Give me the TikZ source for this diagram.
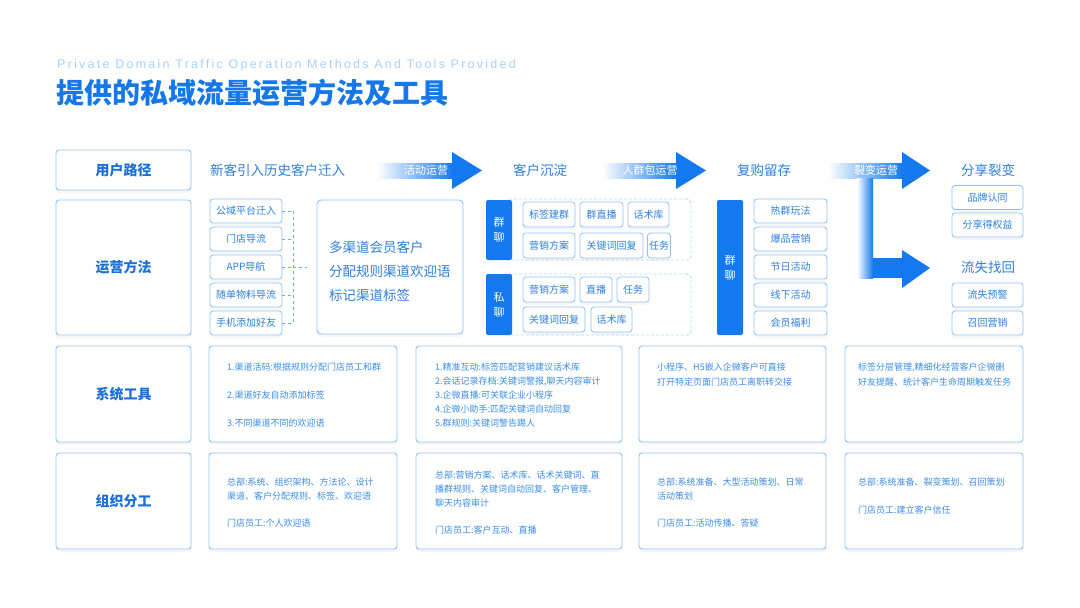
\documentclass[tikz,border=0pt]{standalone}
\usepackage{fontspec}
\setmainfont{Noto Sans CJK SC}
\newfontfamily\enfont[LetterSpace=18]{Liberation Sans}
\usetikzlibrary{shadows}
\definecolor{mainblue}{HTML}{1479EE}
\definecolor{titleblue}{HTML}{1577E8}
\definecolor{labblue}{HTML}{1A6FD8}
\definecolor{txtblue}{HTML}{2F7FDB}
\definecolor{txtlight}{HTML}{3C8DE5}
\definecolor{lineblue}{HTML}{8FC2F2}
\definecolor{dashblue}{HTML}{B5D6F5}
\definecolor{connblue}{HTML}{6AAEF0}
\definecolor{subblue}{HTML}{A8D0F7}
\begin{document}
\begin{tikzpicture}[x=1pt,y=-1pt,
  shad/.style={drop shadow={shadow xshift=0pt,shadow yshift=-3pt,opacity=0.06,fill=black!60}},
  rowlab/.style={draw=lineblue,line width=0.9pt,rounded corners=3pt,fill=white,shad,
    font=\fontsize{14}{16}\selectfont\bfseries,text=labblue,minimum width=135pt,inner sep=0pt},
  steptxt/.style={inner sep=0pt,text=txtblue,font=\fontsize{13.5}{16}\selectfont},
  arrlab/.style={inner sep=0pt,text=white,font=\fontsize{11}{12}\selectfont},
  sbox/.style={draw=lineblue,line width=0.8pt,rounded corners=3pt,fill=white,shad,
    minimum width=72pt,minimum height=24pt,inner sep=0pt,text=txtblue,font=\fontsize{10}{12}\selectfont},
  ibox/.style={draw=lineblue,line width=0.8pt,rounded corners=3pt,fill=white,shad,
    minimum height=25pt,inner sep=0pt,text=txtblue,font=\fontsize{10}{12}\selectfont},
  bigbox/.style={draw=lineblue,line width=0.9pt,rounded corners=4pt,fill=white,shad,
    minimum width=146pt,minimum height=134pt},
  bigtxt/.style={inner sep=0pt,text=txtblue,align=left,font=\fontsize{13.5}{24}\selectfont},
  dcont/.style={draw=dashblue,line width=0.9pt,dash pattern=on 3pt off 2pt,rounded corners=4pt},
  bar/.style={fill=mainblue,rounded corners=2pt,minimum width=26pt,inner sep=0pt,text=white,
    align=center,font=\fontsize{11}{15}\selectfont},
  dconn/.style={draw=connblue,line width=0.9pt,dash pattern=on 3pt off 3pt},
  tbox/.style={draw=lineblue,line width=0.9pt,rounded corners=3pt,fill=white,shad,minimum height=96pt},
  smtxt/.style={inner sep=0pt,text=txtlight,align=left,anchor=west},
]
\useasboundingbox (0,0) rectangle (1080,608);

% header
\node[anchor=west,inner sep=0pt,text=subblue,font=\enfont\fontsize{12.5}{12.5}\selectfont] (sub) at (57,65)
  {Private Domain Traffic Operation Methods And Tools Provided};
\node[anchor=west,inner sep=0pt,text=titleblue,font=\fontsize{28}{30}\selectfont\bfseries] (title) at (56,93)
  {提供的私域流量运营方法及工具};

% row labels
\node[rowlab,minimum height=40pt] (r1) at (123.5,170) {用户路径};
\node[rowlab,minimum height=135pt] (r2) at (123.5,267.5) {运营方法};
\node[rowlab,minimum height=96pt] (r3) at (123.5,394) {系统工具};
\node[rowlab,minimum height=96pt] (r4) at (123.5,501) {组织分工};

% row 1 path
\node[steptxt,anchor=west] (p1) at (210,170) {新客引入历史客户迁入};
\node[steptxt] (p2) at (540,170) {客户沉淀};
\node[steptxt] (p3) at (764,170) {复购留存};
\node[steptxt] (p4) at (988,170) {分享裂变};

% arrows
\shade[left color=white,right color=mainblue] (377,163) rectangle (452.5,178);
\fill[mainblue] (452,152) -- (482,170.5) -- (452,189) -- cycle;
\node[arrlab] (a1) at (426,170.5) {活动运营};

\shade[left color=white,right color=mainblue] (602,163) rectangle (676.5,178);
\fill[mainblue] (676,152) -- (706,170.5) -- (676,189) -- cycle;
\node[arrlab] (a2) at (650,170.5) {人群包运营};

\shade[left color=white,right color=mainblue] (828,163) rectangle (902.5,178);
\fill[mainblue] (902,152) -- (930,170.5) -- (902,189) -- cycle;
\node[arrlab] (a3) at (876,170.5) {裂变运营};

% branch arrow
\shade[left color=white,right color=mainblue] (857,178) rectangle (873,278);
\fill[mainblue] (872.5,258) rectangle (902.5,278);
\fill[mainblue] (902,250) -- (930,268) -- (902,288) -- cycle;

% operation methods: channels
\node[sbox] (s1) at (246,211) {公域平台迁入};
\node[sbox] (s2) at (246,239) {门店导流};
\node[sbox] (s3) at (246,267) {APP导航};
\node[sbox] (s4) at (246,295) {随单物料导流};
\node[sbox] (s5) at (246,323) {手机添加好友};
\node[bigbox] (bb) at (390,267) {};
\node[bigtxt,anchor=west] (bt) at (329,271) {多渠道会员客户\\分配规则渠道欢迎语\\标记渠道标签};
\coordinate (vm) at (293,267);
\coordinate (ve) at (307,267);
\foreach \i in {1,...,5} { \draw[dconn] (s\i.east) -- (s\i.east -| vm); }
\draw[dconn] (s1.east -| vm) -- (s5.east -| vm);
\draw[dconn] (vm) -- (ve);

% group chat
\node[dcont,minimum width=186pt,minimum height=61pt] (c1) at (598,229.5) {};
\node[bar,minimum height=60pt] (g1) at (499,230) {群\\聊};
\node[ibox,minimum width=52pt] (i1) at (549,214.5) {标签建群};
\node[ibox,minimum width=43pt] (i2) at (601.5,214.5) {群直播};
\node[ibox,minimum width=41pt] (i3) at (648.5,214.5) {话术库};
\node[ibox,minimum width=52pt] (i4) at (549,245.5) {营销方案};
\node[ibox,minimum width=63pt] (i5) at (611.5,245.5) {关键词回复};
\node[ibox,minimum width=23pt] (i6) at (659,245.5) {任务};

% private chat
\node[dcont,minimum width=186pt,minimum height=61pt] (c2) at (598,304.5) {};
\node[bar,minimum height=61pt] (g2) at (499,304.5) {私\\聊};
\node[ibox,minimum width=52pt] (j1) at (549,289.5) {营销方案};
\node[ibox,minimum width=32pt] (j2) at (596,289.5) {直播};
\node[ibox,minimum width=32pt] (j3) at (633,289.5) {任务};
\node[ibox,minimum width=62pt] (j4) at (554,319.5) {关键词回复};
\node[ibox,minimum width=41pt] (j5) at (611.5,319.5) {话术库};

% repurchase
\node[bar,minimum height=135pt] (q1) at (730,267.5) {群\\聊};
\node[sbox,minimum width=73pt] (m1) at (790.5,211) {热群玩法};
\node[sbox,minimum width=73pt] (m2) at (790.5,239) {爆品营销};
\node[sbox,minimum width=73pt] (m3) at (790.5,267) {节日活动};
\node[sbox,minimum width=73pt] (m4) at (790.5,295) {线下活动};
\node[sbox,minimum width=73pt] (m5) at (790.5,323) {会员福利};

% share / recall
\node[sbox,minimum width=71pt] (f1) at (987.5,197.5) {品牌认同};
\node[sbox,minimum width=71pt] (f2) at (987.5,225) {分享得权益};
\node[steptxt] (p5) at (988,267) {流失找回};
\node[sbox,minimum width=71pt] (f3) at (987.5,295) {流失预警};
\node[sbox,minimum width=71pt] (f4) at (987.5,323) {召回营销};

% system tools
\node[tbox,minimum width=188pt] (b1) at (303,394) {};
\node[tbox,minimum width=206pt] (b2) at (519,394) {};
\node[tbox,minimum width=187pt] (b3) at (732.5,394) {};
\node[tbox,minimum width=178pt] (b4) at (934,394) {};
\node[smtxt,font=\fontsize{9}{28}\selectfont] (x1) at (227,395)
  {1.渠道活码:根据规则分配门店员工和群\\2.渠道好友自动添加标签\\3.不同渠道不同的欢迎语};
\node[smtxt,font=\fontsize{9}{14}\selectfont] (x2) at (435,395)
  {1.精准互动:标签匹配营销建议话术库\\2.会话记录存档:关键词警报,聊天内容审计\\3.企微直播:可关联企业小程序\\4.企微小助手:匹配关键词自动回复\\5.群规则:关键词警告踢人};
\node[smtxt,font=\fontsize{9}{15}\selectfont] (x3) at (657,374.5)
  {小程序、H5嵌入企微客户可直接\\打开特定页面门店员工离职转交接};
\node[smtxt,font=\fontsize{9}{15}\selectfont] (x4) at (858,374.5)
  {标签分层管理,精细化经营客户企微删\\好友提醒、统计客户生命周期触发任务};

% organisation
\node[tbox,minimum width=188pt] (o1) at (303,501) {};
\node[tbox,minimum width=206pt] (o2) at (519,501) {};
\node[tbox,minimum width=187pt] (o3) at (732.5,501) {};
\node[tbox,minimum width=178pt] (o4) at (934,501) {};
\node[smtxt,font=\fontsize{9}{14}\selectfont] (y1) at (227,502.5)
  {总部:系统、组织架构、方法论、设计\\渠道、客户分配规则、标签、欢迎语\\[13pt]门店员工:个人欢迎语};
\node[smtxt,font=\fontsize{9}{14}\selectfont] (y2) at (435,502.5)
  {总部:营销方案、话术库、话术关键词、直\\播群规则、关键词自动回复、客户管理、\\聊天内容审计\\[13pt]门店员工:客户互动、直播};
\node[smtxt,font=\fontsize{9}{14}\selectfont] (y3) at (657,502.5)
  {总部:系统准备、大型活动策划、日常\\活动策划\\[13pt]门店员工:活动传播、答疑};
\node[smtxt,font=\fontsize{9}{14}\selectfont] (y4) at (858,496)
  {总部:系统准备、裂变策划、召回策划\\[14pt]门店员工:建立客户信任};
\end{tikzpicture}
\end{document}
